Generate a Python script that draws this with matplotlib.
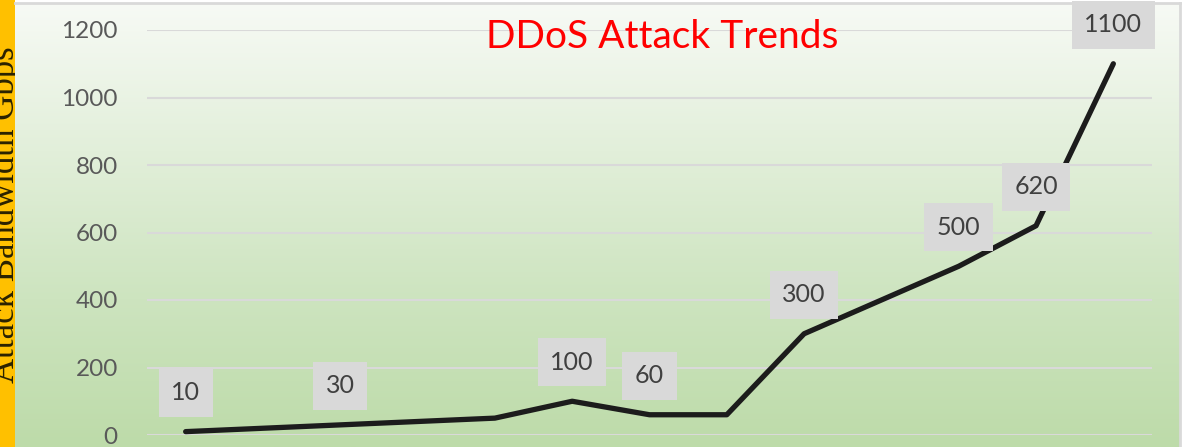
import numpy as np
import matplotlib
matplotlib.use("Agg")
import matplotlib.pyplot as plt
from matplotlib.colors import LinearSegmentedColormap

# attack bandwidth (Gbps) per period
values = [10, 20, 30, 40, 50, 100, 60, 60, 300, 400, 500, 620, 1100]
# which points carry a data label
show_label = [True, False, True, False, False, True, True, False, True, False, True, True, True]
yticks = [0, 200, 400, 600, 800, 1000, 1200]

W, H = 1183, 447
fig = plt.figure(figsize=(W / 100, H / 100), dpi=100)
fig.patch.set_facecolor("white")

# orange strip with the (cut off) axis title
strip = fig.add_axes([0, 0, 15 / W, 1])
strip.set_facecolor("#ffc000")
strip.set_xticks([])
strip.set_yticks([])
for s in strip.spines.values():
    s.set_visible(False)
strip.text(0.93, 0.52, "Attack Bandwidth Gbps", transform=strip.transAxes,
           rotation=90, rotation_mode="anchor", ha="center", va="baseline",
           fontsize=25, family="Liberation Serif", color="#2a2200", clip_on=True)

# gradient background
bg = fig.add_axes([15 / W, 0, (1180 - 15) / W, 1 - 3 / H])
cmap = LinearSegmentedColormap.from_list("bg", ["#bddba9", "#cde4bf", "#e2efda", "#f7faf5"])
grad = np.linspace(0, 1, 256).reshape(-1, 1)
bg.imshow(grad, aspect="auto", cmap=cmap, origin="lower", extent=[0, 1, 0, 1])
bg.set_xticks([])
bg.set_yticks([])
for name, s in bg.spines.items():
    s.set_visible(name in ("top", "right"))
    s.set_color("#d9d9d9")
    s.set_linewidth(2)

ax = fig.add_axes([147 / W, 12 / H, (1152 - 147) / W, (435 - 30) / H])
ax.set_facecolor("none")
x = np.arange(len(values))
ax.plot(x, values, color="#1c1c1c", lw=3.8, solid_capstyle="round",
        solid_joinstyle="round", zorder=3)

for xi, v, lab in zip(x, values, show_label):
    if lab:
        ax.annotate(str(v), (xi, v), xytext=(0, 28), textcoords="offset points",
                    ha="center", va="center", fontsize=18, family="Lato",
                    color="#404040", zorder=4,
                    bbox=dict(boxstyle="square,pad=0.5", fc="#d9d9d9", ec="none"))

ax.set_xlim(-0.5, len(values) - 0.5)
ax.set_ylim(0, 1200)
ax.set_yticks(yticks)
ax.set_yticklabels([str(t) for t in yticks], fontsize=17.5, family="Lato", color="#595959")
ax.tick_params(axis="y", length=0, pad=21)
ax.set_xticks([])
ax.grid(axis="y", color="#d9d9d9", lw=1.5)
ax.set_axisbelow(True)
for s in ax.spines.values():
    s.set_visible(False)

fig.text(662 / W, 1 - 37 / H, "DDoS Attack Trends", ha="center", va="center",
         fontsize=28, family="Lato", color="#ff0000")

fig.savefig("out.png", dpi=100)
